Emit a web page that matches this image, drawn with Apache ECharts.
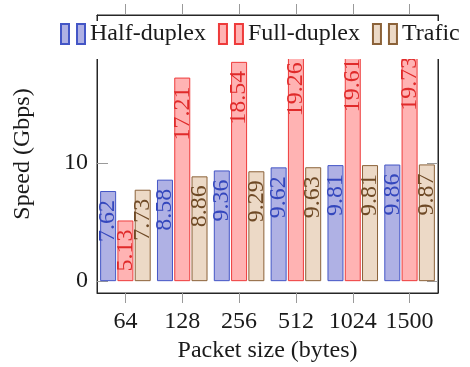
<!DOCTYPE html>
<html>
<head>
<meta charset="utf-8">
<script src="https://cdn.jsdelivr.net/npm/echarts@6/dist/echarts.min.js"></script>
<style>html,body{margin:0;padding:0;background:#fff;}#c{width:470px;height:367px;}</style>
</head>
<body>
<div id="c"></div>
<script>
const categories = ['64', '128', '256', '512', '1024', '1500'];
const halfDuplex = [7.62, 8.58, 9.36, 9.62, 9.81, 9.86];
const fullDuplex = [5.13, 17.21, 18.54, 19.26, 19.61, 19.73];
const trafic = [7.73, 8.86, 9.29, 9.63, 9.81, 9.87];
const yTicks = [0, 10, 20];

const FONT = 'Liberation Serif';
const TXT = '#1a1a1a';
const TICK = '#9a9a9a';
const LINE = '#262626';

function barSeries(name, data, fill, stroke, textColor) {
  return {
    name: name,
    type: 'bar',
    data: data,
    barWidth: 16,
    barGap: '8%',
    itemStyle: { color: fill, borderColor: stroke, borderWidth: 1 },
    label: {
      show: true,
      position: 'insideTop',
      distance: 9,
      rotate: 90,
      align: 'right',
      verticalAlign: 'middle',
      formatter: '{c}',
      fontFamily: FONT,
      fontSize: 24,
      color: textColor
    }
  };
}

const chart = echarts.init(document.getElementById('c'));
chart.setOption({
  animation: false,
  backgroundColor: '#fff',
  grid: { left: 97, right: 32, top: 15, bottom: 74, outerBoundsMode: 'none', show: true, borderColor: LINE, borderWidth: 1, backgroundColor: 'transparent' },
  graphic: [{
    type: 'rect',
    left: 52,
    top: 21,
    z: 100,
    silent: true,
    shape: { width: 418, height: 38 },
    style: { fill: '#fff' }
  }],
  legend: {
    z: 200,
    left: 52,
    top: 17,
    width: 412,
    padding: [5, 0, 13, 8],
    itemWidth: 24,
    itemHeight: 20,
    itemGap: 12,
    icon: 'path://M0,0h8v20h-8z M16,0h8v20h-8z',
    textStyle: { fontFamily: FONT, fontSize: 24, color: TXT },
    data: ['Half-duplex', 'Full-duplex', 'Trafic']
  },
  xAxis: [
    {
      type: 'category',
      data: categories,
      position: 'bottom',
      name: 'Packet size (bytes)',
      nameLocation: 'middle',
      nameGap: 44,
      nameTextStyle: { fontFamily: FONT, fontSize: 24, color: TXT },
      axisLine: { show: true, onZero: false, lineStyle: { color: LINE, width: 1 } },
      axisTick: { show: true, alignWithLabel: true, interval: 0, inside: false, length: 10, lineStyle: { color: TICK } },
      axisLabel: { interval: 0, margin: 17, fontFamily: FONT, fontSize: 24, color: TXT }
    },
    {
      type: 'category',
      data: categories,
      position: 'top',
      axisLine: { show: true, onZero: false, lineStyle: { color: LINE, width: 1 } },
      axisTick: { show: true, alignWithLabel: true, interval: 0, inside: false, length: 11, lineStyle: { color: TICK } },
      axisLabel: { show: false }
    }
  ],
  yAxis: [
    {
      type: 'value',
      min: -1,
      max: 22.5,
      position: 'left',
      name: 'Speed (Gbps)',
      nameLocation: 'middle',
      nameGap: 62,
      nameTextStyle: { fontFamily: FONT, fontSize: 24, color: TXT },
      splitLine: { show: false },
      axisLine: { show: true, onZero: false, lineStyle: { color: LINE, width: 1 } },
      axisTick: { show: true, inside: true, length: 11, customValues: yTicks, lineStyle: { color: TICK } },
      axisLabel: { margin: 9, customValues: yTicks, fontFamily: FONT, fontSize: 24, color: TXT }
    },
    {
      type: 'value',
      min: -1,
      max: 22.5,
      position: 'right',
      splitLine: { show: false },
      axisLine: { show: true, onZero: false, lineStyle: { color: LINE, width: 1 } },
      axisTick: { show: true, inside: true, length: 11, customValues: yTicks, lineStyle: { color: TICK } },
      axisLabel: { show: false }
    }
  ],
  series: [
    barSeries('Half-duplex', halfDuplex, '#afb1e4', '#4456c6', '#3447bd'),
    barSeries('Full-duplex', fullDuplex, '#ffb3b3', '#ee3b3b', '#e02a2a'),
    barSeries('Trafic', trafic, '#ecd9c6', '#8b6239', '#6f4a26')
  ]
});
</script>
</body>
</html>
